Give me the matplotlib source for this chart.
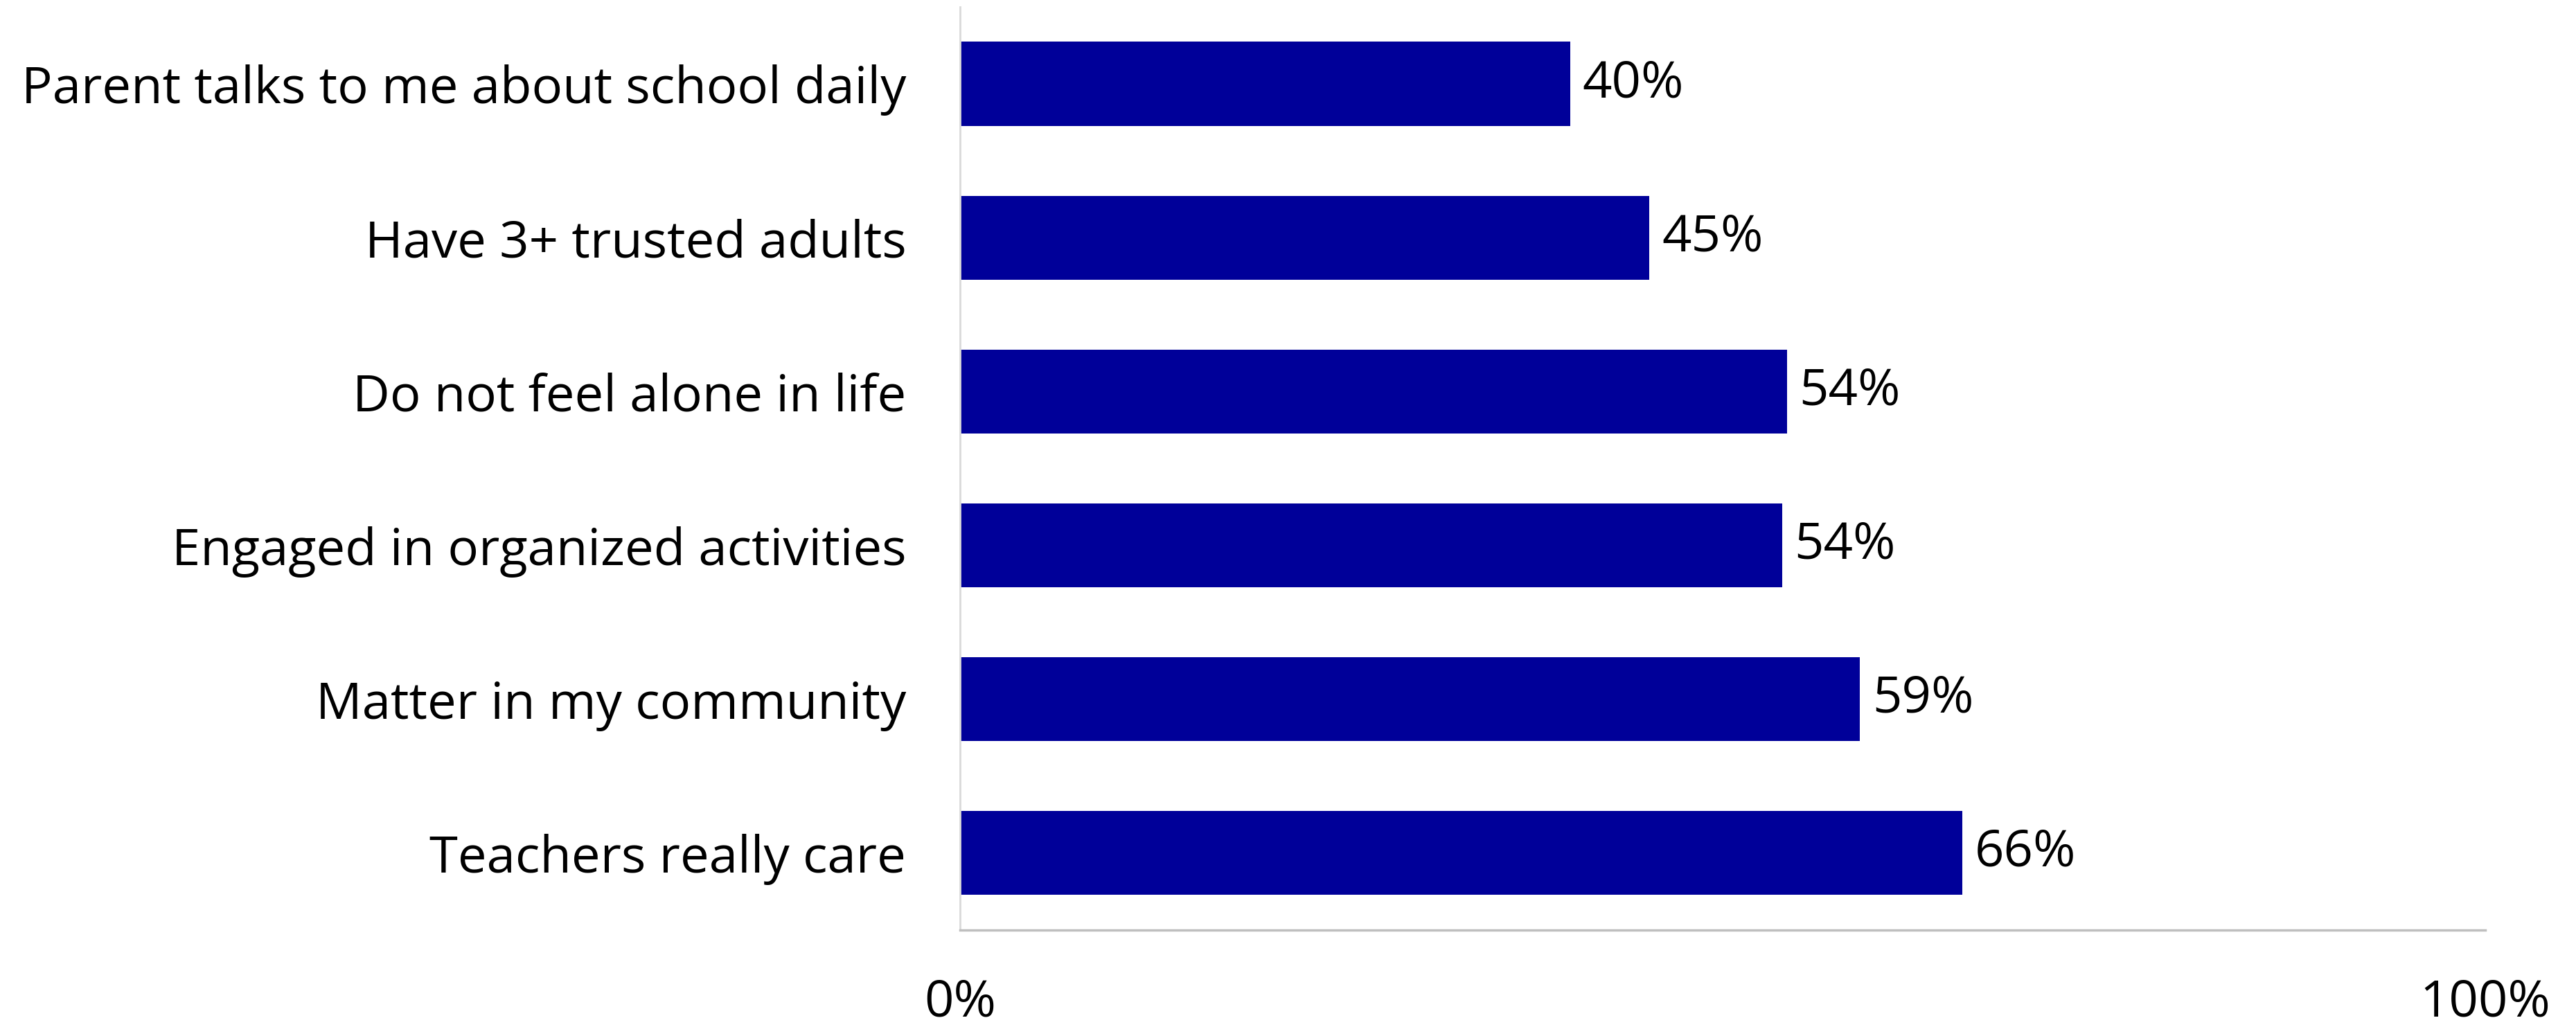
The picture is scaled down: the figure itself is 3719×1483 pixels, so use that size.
import matplotlib.pyplot as plt
import numpy as np

plt.rcParams['font.family'] = ['Open Sans', 'DejaVu Sans']

categories = ["Parent talks to me about school daily",
              "Have 3+ trusted adults",
              "Do not feel alone in life",
              "Engaged in organized activities",
              "Matter in my community",
              "Teachers really care"]
values = [40.0, 45.2, 54.2, 53.9, 59.0, 65.7]
xticks = [0, 100]
xtick_labels = ["0%", "100%"]

fs = 53.5
bar_color = "#000099"

fig = plt.figure(figsize=(37.19, 14.83), dpi=100)
ax = fig.add_axes([0.3727, 0.0944, 0.5921, 0.8989])

y = np.arange(len(categories))
ax.barh(y, values, height=0.545, color=bar_color)
ax.set_ylim(len(categories) - 0.5, -0.5)
ax.set_xlim(0, 100)

ax.set_yticks(y)
ax.set_yticklabels(categories, fontsize=fs)
ax.set_xticks(xticks)
ax.set_xticklabels(xtick_labels, fontsize=fs)
ax.tick_params(axis='y', length=0, pad=56)
ax.tick_params(axis='x', length=0, pad=49)

for s in ['top', 'right']:
    ax.spines[s].set_visible(False)
ax.spines['left'].set_color('#D9D9D9')
ax.spines['left'].set_linewidth(2)
ax.spines['bottom'].set_color('#BFBFBF')
ax.spines['bottom'].set_linewidth(2.5)

for yi, v in zip(y, values):
    ax.text(v + 0.8, yi, f"{v:.0f}%", va='center', ha='left', fontsize=fs)

fig.savefig("out.png", dpi=100)
